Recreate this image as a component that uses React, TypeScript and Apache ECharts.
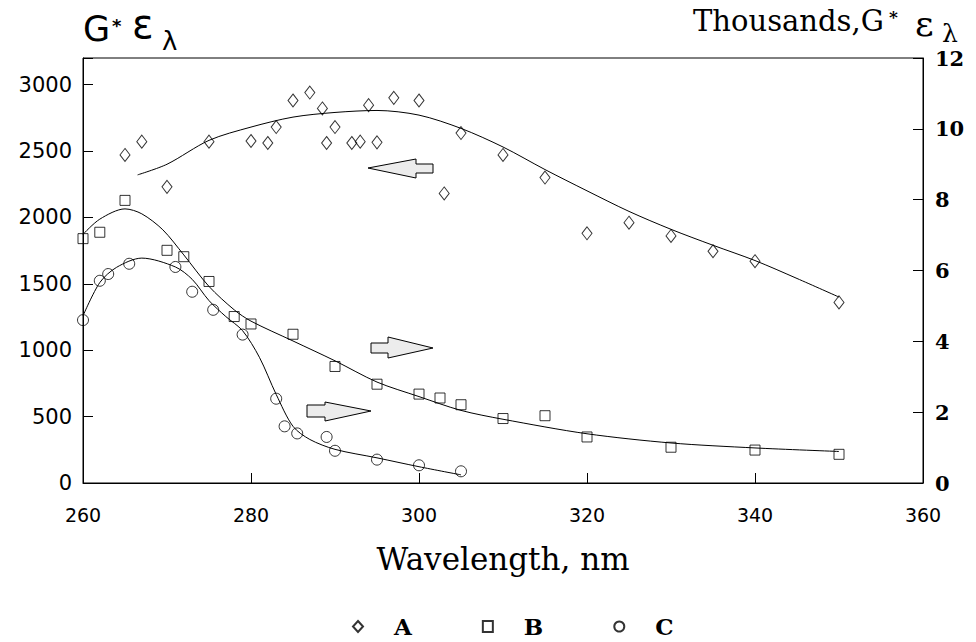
import React, { useEffect, useRef } from 'react';
import * as echarts from 'echarts';

// Measured points, series A (left axis, G*ε)
const aWavelength = [265, 267, 270, 275, 280, 282, 283, 285, 287, 288.5, 289, 290, 292, 293, 294, 295, 297, 300, 303, 305, 310, 315, 320, 325, 330, 335, 340, 350];
const aValue = [2470, 2570, 2230, 2570, 2575, 2560, 2680, 2880, 2940, 2820, 2560, 2680, 2560, 2570, 2845, 2565, 2900, 2880, 2180, 2635, 2470, 2300, 1880, 1960, 1860, 1745, 1670, 1360];

// Measured points, series B (right axis, thousands)
const bWavelength = [260, 262, 265, 270, 272, 275, 278, 280, 285, 290, 295, 300, 302.5, 305, 310, 315, 320, 330, 340, 350];
const bValue = [6.9, 7.08, 7.98, 6.57, 6.39, 5.69, 4.7, 4.49, 4.2, 3.29, 2.79, 2.51, 2.4, 2.21, 1.82, 1.9, 1.3, 1.01, 0.93, 0.81];

// Measured points, series C (right axis, thousands)
const cWavelength = [260, 262, 263, 265.5, 271, 273, 275.5, 279, 283, 284, 285.5, 289, 290, 295, 300, 305];
const cValue = [4.6, 5.71, 5.9, 6.19, 6.1, 5.4, 4.89, 4.19, 2.38, 1.6, 1.4, 1.3, 0.91, 0.66, 0.5, 0.33];

// Fitted curves
const aFitWavelength = [266.5, 270, 275, 280, 285, 290, 295, 300, 305, 310, 315, 320, 325, 330, 335, 340, 345, 350];
const aFitValue = [2320, 2400, 2580, 2680, 2755, 2790, 2805, 2770, 2670, 2530, 2360, 2200, 2045, 1910, 1790, 1675, 1540, 1400];

const bFitWavelength = [260, 262, 265, 267, 269.5, 272, 275, 278, 280, 285, 290, 295, 300, 305, 310, 320, 330, 340, 350];
const bFitValue = [7.02, 7.45, 7.74, 7.6, 7.15, 6.44, 5.55, 4.89, 4.57, 4.01, 3.45, 2.85, 2.44, 2.05, 1.8, 1.39, 1.13, 0.99, 0.89];

const cFitWavelength = [260, 262, 264, 267, 271, 273, 275, 277, 279, 281, 283, 285, 287, 290, 295, 300, 305];
const cFitValue = [4.72, 5.66, 6.09, 6.35, 6.1, 5.75, 5.15, 4.7, 4.3, 3.55, 2.5, 1.6, 1.23, 0.95, 0.71, 0.46, 0.23];

const leftTicks = [0, 500, 1000, 1500, 2000, 2500, 3000];
const seriesNames = ['A', 'B', 'C'];

const pair = (xs: number[], ys: number[]) => xs.map((x, i) => [x, ys[i]]);

const hollow = { color: 'rgba(0,0,0,0)', borderColor: '#000', borderWidth: 1 };
const curveStyle = { color: '#000', width: 1 };

const arrowStyle = { fill: '#ececec', stroke: '#000', lineWidth: 1 };

export default function App() {
  const ref = useRef<HTMLDivElement>(null);

  useEffect(() => {
    document.body.style.margin = '0';
    const chart = echarts.init(ref.current!, undefined, { renderer: 'svg' });

    chart.setOption({
      animation: false,
      backgroundColor: '#fff',
      grid: {
        left: 83,
        right: 53,
        top: 58,
        bottom: 159,
        show: true,
        borderColor: '#000',
        borderWidth: 1,
      },
      xAxis: {
        type: 'value',
        min: 260,
        max: 360,
        interval: 20,
        name: 'Wavelength, nm',
        nameLocation: 'middle',
        nameGap: 60,
        nameTextStyle: { fontFamily: 'DejaVu Serif', fontSize: 31, color: '#000' },
        axisLine: { lineStyle: { color: '#000', width: 1 } },
        axisTick: { inside: true, length: 10, lineStyle: { color: '#000' } },
        axisLabel: { fontFamily: 'DejaVu Sans', fontSize: 19, color: '#000', margin: 22 },
        splitLine: { show: false },
      },
      yAxis: [
        {
          type: 'value',
          min: 0,
          max: 3200,
          interval: 500,
          axisLine: { show: true, lineStyle: { color: '#000', width: 1 } },
          axisTick: { inside: true, length: 10, lineStyle: { color: '#000' } },
          axisLabel: {
            fontFamily: 'DejaVu Sans',
            fontSize: 21,
            color: '#000',
            margin: 11,
            formatter: (v: number) => (leftTicks.includes(v) ? String(v) : ''),
          },
          splitLine: { show: false },
        },
        {
          type: 'value',
          min: 0,
          max: 12,
          interval: 2,
          position: 'right',
          axisLine: { show: true, lineStyle: { color: '#000', width: 1 } },
          axisTick: { inside: true, length: 10, lineStyle: { color: '#000' } },
          axisLabel: {
            fontFamily: 'DejaVu Serif',
            fontWeight: 'bold',
            fontSize: 21,
            color: '#000',
            margin: 12,
          },
          splitLine: { show: false },
        },
      ],
      legend: {
        data: [
          { name: seriesNames[0], icon: 'diamond' },
          { name: seriesNames[1], icon: 'rect' },
          { name: seriesNames[2], icon: 'circle' },
        ],
        left: 347,
        top: 610,
        itemWidth: 10,
        itemHeight: 11,
        itemGap: 70,
        selectedMode: false,
        textStyle: {
          fontFamily: 'DejaVu Serif',
          fontWeight: 'bold',
          fontSize: 23,
          color: '#000',
          padding: [0, 0, 0, 26],
        },
      },
      series: [
        {
          name: seriesNames[0],
          type: 'scatter',
          yAxisIndex: 0,
          symbol: 'diamond',
          symbolSize: [10, 13],
          itemStyle: hollow,
          data: pair(aWavelength, aValue),
          z: 3,
        },
        {
          name: seriesNames[1],
          type: 'scatter',
          yAxisIndex: 1,
          symbol: 'rect',
          symbolSize: 10,
          itemStyle: hollow,
          data: pair(bWavelength, bValue),
          z: 3,
        },
        {
          name: seriesNames[2],
          type: 'scatter',
          yAxisIndex: 1,
          symbol: 'circle',
          symbolSize: 11,
          itemStyle: hollow,
          data: pair(cWavelength, cValue),
          z: 3,
        },
        {
          name: 'A fit',
          type: 'line',
          yAxisIndex: 0,
          smooth: 0.3,
          showSymbol: false,
          lineStyle: curveStyle,
          data: pair(aFitWavelength, aFitValue),
        },
        {
          name: 'B fit',
          type: 'line',
          yAxisIndex: 1,
          smooth: 0.3,
          showSymbol: false,
          lineStyle: curveStyle,
          data: pair(bFitWavelength, bFitValue),
        },
        {
          name: 'C fit',
          type: 'line',
          yAxisIndex: 1,
          smooth: 0.3,
          showSymbol: false,
          lineStyle: curveStyle,
          data: pair(cFitWavelength, cFitValue),
        },
      ],
      graphic: [
        // left axis title: G* ε_λ
        { type: 'text', left: 83, top: 11, style: { text: 'G', font: '35px "DejaVu Sans"', fill: '#000' } },
        { type: 'text', left: 112, top: 16, style: { text: '*', font: 'bold 18px "DejaVu Sans"', fill: '#000' } },
        { type: 'text', left: 132, top: 4, style: { text: 'ε', font: '40px "DejaVu Sans"', fill: '#000' } },
        { type: 'text', left: 162, top: 28, style: { text: 'λ', font: '26px "DejaVu Sans"', fill: '#000' } },
        // right axis title: Thousands, G* ε_λ
        { type: 'text', left: 693, top: 6, style: { text: 'Thousands,G', font: '29px "DejaVu Serif"', fill: '#000' } },
        { type: 'text', left: 889, top: 8, style: { text: '*', font: 'bold 17px "DejaVu Serif"', fill: '#000' } },
        { type: 'text', left: 915, top: 5, style: { text: 'ε', font: '36px "DejaVu Serif"', fill: '#000' } },
        { type: 'text', left: 942, top: 21, style: { text: 'λ', font: '25px "DejaVu Serif"', fill: '#000' } },
        // arrows pointing to the axis each curve belongs to
        {
          type: 'polygon',
          shape: { points: [[368, 168], [416, 159], [416, 164], [433, 164], [433, 173], [416, 173], [416, 178]] },
          style: arrowStyle,
          z: 10,
        },
        {
          type: 'polygon',
          shape: { points: [[433, 348], [388, 337], [388, 343], [371, 343], [371, 353], [388, 353], [388, 358]] },
          style: arrowStyle,
          z: 10,
        },
        {
          type: 'polygon',
          shape: { points: [[371, 411], [325, 402], [325, 405], [307, 405], [307, 417], [325, 417], [325, 421]] },
          style: arrowStyle,
          z: 10,
        },
      ],
    });

    return () => chart.dispose();
  }, []);

  return (
    <div
      ref={ref}
      style={{ position: 'fixed', left: 0, top: 0, width: 976, height: 642, background: '#fff' }}
    />
  );
}
